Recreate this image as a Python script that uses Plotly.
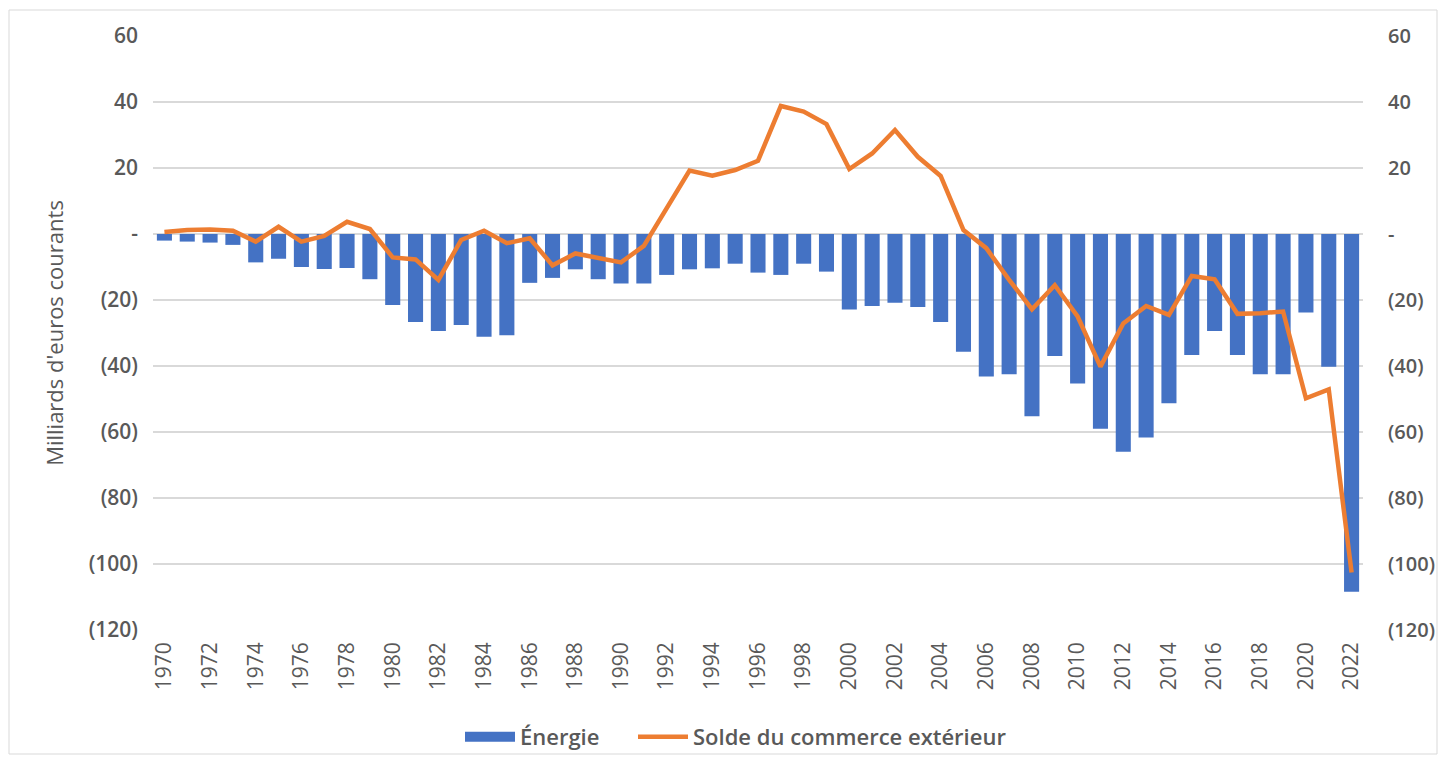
import plotly.graph_objects as go

years = list(range(1970, 2023))
energie = [-2.0, -2.3, -2.6, -3.3, -8.6, -7.5, -10.0, -10.6, -10.3, -13.7,
           -21.5, -26.7, -29.4, -27.6, -31.1, -30.7, -14.8, -13.3, -10.7, -13.7,
           -15.0, -15.0, -12.4, -10.7, -10.4, -9.0, -11.7, -12.4, -9.0, -11.4,
           -22.9, -21.8, -20.8, -22.1, -26.7, -35.7, -43.2, -42.5, -55.2, -37.0,
           -45.3, -59.0, -66.0, -61.7, -51.3, -36.7, -29.4, -36.7, -42.5, -42.5,
           -23.8, -40.2, -108.4]
solde = [0.6, 1.2, 1.4, 1.0, -2.3, 2.2, -2.3, -0.6, 3.7, 1.5,
         -7.1, -7.7, -13.9, -1.8, 1.0, -2.8, -1.3, -9.5, -5.9, -7.1,
         -8.6, -3.6, 7.8, 19.2, 17.7, 19.4, 22.2, 38.8, 37.1, 33.3,
         19.7, 24.4, 31.5, 23.4, 17.6, 1.2, -4.3, -13.9, -22.8, -15.5,
         -25.0, -40.2, -27.1, -21.8, -24.5, -12.7, -13.7, -24.2, -24.0, -23.5,
         -49.8, -47.1, -102.6]
ytick_vals = [60, 40, 20, 0, -20, -40, -60, -80, -100, -120]
ytick_text = ["60", "40", "20", "-", "(20)", "(40)", "(60)", "(80)", "(100)", "(120)"]
xtick_vals = list(range(1970, 2023, 2))

BLUE = "#4472C4"
ORANGE = "#ED7D31"
GREY = "#595959"
FONT = "Open Sans"

FIG_W, FIG_H = 1431, 748

fig = go.Figure()
fig.add_trace(go.Bar(x=years, y=energie, name="Énergie", marker_color=BLUE,
                     marker_line_width=0, width=0.66, yaxis="y", showlegend=False))
# legend entry for the bars (wide blue swatch)
fig.add_trace(go.Scatter(x=[None], y=[None], name="Énergie", mode="lines",
                         line=dict(color=BLUE, width=16), yaxis="y", legend="legend"))
fig.add_trace(go.Scatter(x=years, y=solde, name="Solde du commerce extérieur",
                         mode="lines", line=dict(color=ORANGE, width=4.5), yaxis="y2",
                         legend="legend2"))

leg_y = 1 - (737 - 8) / FIG_H
leg_common = dict(orientation="h", xanchor="left", yref="container", y=leg_y,
                  yanchor="middle", itemwidth=50,
                  font=dict(size=22, color=GREY, family=FONT, weight=600),
                  bgcolor="rgba(0,0,0,0)")

fig.update_layout(
    width=FIG_W, height=FIG_H,
    margin=dict(l=145, r=FIG_W - 145 - 1210, t=28, b=FIG_H - 28 - 594),
    paper_bgcolor="white", plot_bgcolor="white",
    font=dict(family=FONT, color=GREY),
    showlegend=True,
    legend=dict(x=(460 - 153) / 1210, **leg_common),
    legend2=dict(x=(633 - 153) / 1210, **leg_common),
    xaxis=dict(range=[1969.5, 2022.5], tickmode="array", tickvals=xtick_vals,
               ticktext=[str(v) for v in xtick_vals], tickangle=-90,
               tickfont=dict(size=21, color=GREY, family=FONT),
               showgrid=False, zeroline=False, showline=False, ticks="",
               ticklabelstandoff=7, automargin=False),
    yaxis=dict(range=[-120, 60], tickmode="array", tickvals=ytick_vals, ticktext=ytick_text,
               tickfont=dict(size=21, color=GREY, family=FONT, weight=600),
               showgrid=True, gridcolor="#D9D9D9", gridwidth=1.5, zeroline=False,
               showline=False, ticks="", ticklabelstandoff=14, automargin=False,
               title=dict(text="Milliards d'euros courants",
                          font=dict(size=22, color=GREY, family=FONT), standoff=18)),
    yaxis2=dict(range=[-120, 60], tickmode="array", tickvals=ytick_vals, ticktext=ytick_text,
                overlaying="y", side="right",
                tickfont=dict(size=20, color=GREY, family=FONT, weight=600),
                showgrid=False, zeroline=False, showline=False, ticks="",
                ticklabelstandoff=24, automargin=False),
    bargap=0.34,
)

fig.add_shape(type="rect", xref="paper", yref="paper",
              x0=(9 - 153) / 1210, x1=(1437 - 153) / 1210,
              y0=(630 - 754) / 594, y1=(630 - 10) / 594,
              line=dict(color="#D9D9D9", width=1), fillcolor="rgba(0,0,0,0)", layer="below")

fig.write_html("out.html")
